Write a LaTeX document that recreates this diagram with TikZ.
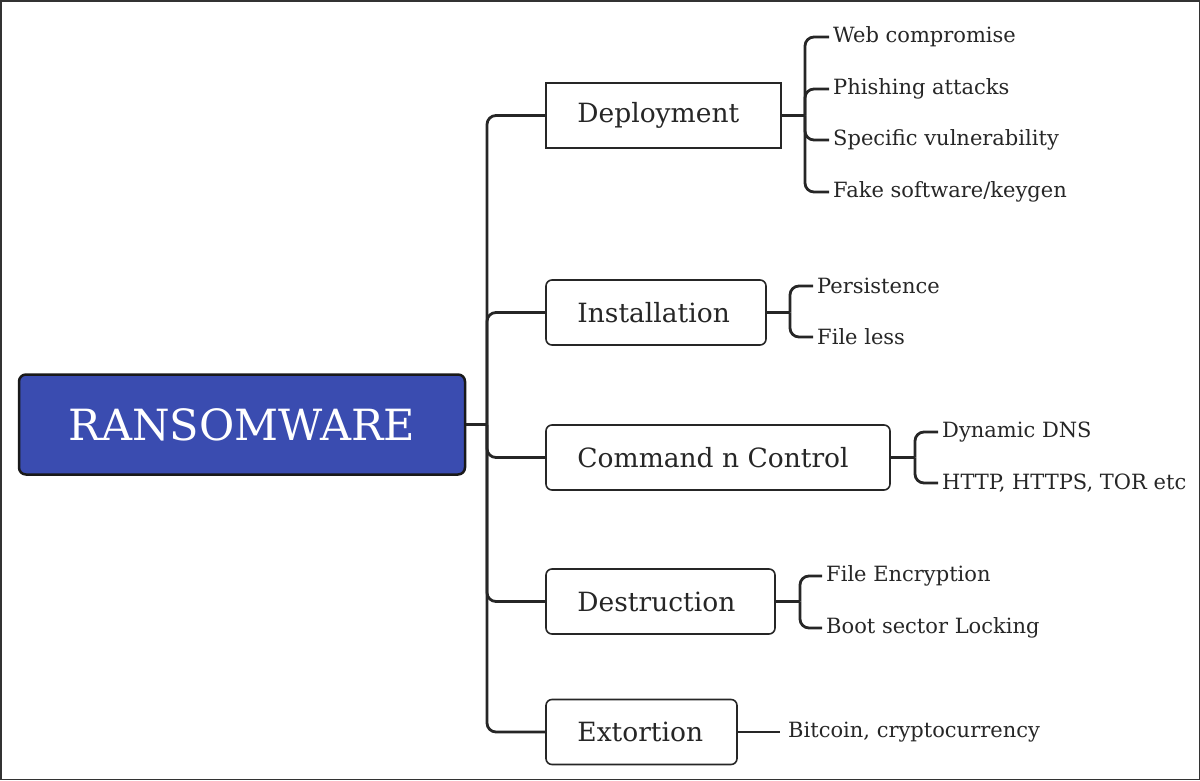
\documentclass[tikz,border=0pt]{standalone}
\usepackage{fontspec}
\setmainfont{DejaVu Serif}
\begin{document}
\begin{tikzpicture}[x=1pt,y=-1pt,
  conn/.style={line width=2.8pt,draw=black!85,rounded corners=9pt},
  catbox/.style={draw=black!85,line width=1.6pt,rounded corners=6pt,minimum height=65pt,inner sep=0pt},
  catlabel/.style={anchor=west,inner sep=0pt,font=\fontsize{26.5}{30}\selectfont,text=black!85},
  leaf/.style={anchor=west,font=\fontsize{21}{24}\selectfont,text=black!85,inner sep=0pt}]
\draw[line width=1.5pt,draw=black!80] (0.75,0.75) rectangle (1199.25,779.25);
\useasboundingbox (0,0) rectangle (1200,780);
\node[draw=black!90,line width=2.5pt,fill={rgb,255:red,58;green,76;blue,176},rounded corners=7pt,minimum width=446pt,minimum height=100pt,text=white,font=\fontsize{43}{48}\selectfont] (root) at (242,424.5) {RANSOMWARE};
\node[catbox,rounded corners=0pt,minimum width=235pt] (dep) at (663.5,115.5) {};
\node[catbox,minimum width=220pt] (ins) at (656,312.5) {};
\node[catbox,minimum width=344pt] (cnc) at (718,457.5) {};
\node[catbox,minimum width=229pt] (des) at (660.5,601.5) {};
\node[catbox,minimum width=191pt] (ext) at (641.5,732) {};
\foreach \b/\t in {dep/Deployment,ins/Installation,cnc/Command n Control,des/Destruction,ext/Extortion}{
  \node[catlabel] (\b-t) at ([xshift=32pt]\b.west) {\t};}
\coordinate (t) at (487,424.5);
\draw[conn] (root.east) -- (t);
\foreach \b in {dep,ins,cnc,des,ext}{\draw[conn] (t) |- (\b.west);}
% leaves
\node[leaf] (l1) at (833,37) {Web compromise};
\node[leaf] (l2) at (833,89) {Phishing attacks};
\node[leaf] (l3) at (833,140) {Specific vulnerability};
\node[leaf] (l4) at (833,192) {Fake software/keygen};
\node[leaf] (l5) at (817,286) {Persistence};
\node[leaf] (l6) at (817,337) {File less};
\node[leaf] (l7) at (942,432) {Dynamic DNS};
\node[leaf] (l8) at (942,483) {HTTP, HTTPS, TOR etc};
\node[leaf] (l9) at (826,576) {File Encryption};
\node[leaf] (l10) at (826,628) {Boot sector Locking};
\node[leaf] (l11) at (788,732) {Bitcoin, cryptocurrency};
\coordinate (bd) at (805,115.5);
\coordinate (bi) at (790,312.5);
\coordinate (bc) at (915,457.5);
\coordinate (bx) at (800,601.5);
\coordinate (ee) at ([xshift=-8pt]l11.west);
\draw[conn] (dep.east) -- (bd);
\foreach \l in {l1,l2,l3,l4}{\draw[conn] (bd) |- ([xshift=-4pt]\l.west);}
\draw[conn] (ins.east) -- (bi);
\foreach \l in {l5,l6}{\draw[conn] (bi) |- ([xshift=-4pt]\l.west);}
\draw[conn] (cnc.east) -- (bc);
\foreach \l in {l7,l8}{\draw[conn] (bc) |- ([xshift=-4pt]\l.west);}
\draw[conn] (des.east) -- (bx);
\foreach \l in {l9,l10}{\draw[conn] (bx) |- ([xshift=-4pt]\l.west);}
\draw[conn] (ext.east) -- (ext.east -| ee);
\end{tikzpicture}
\end{document}
